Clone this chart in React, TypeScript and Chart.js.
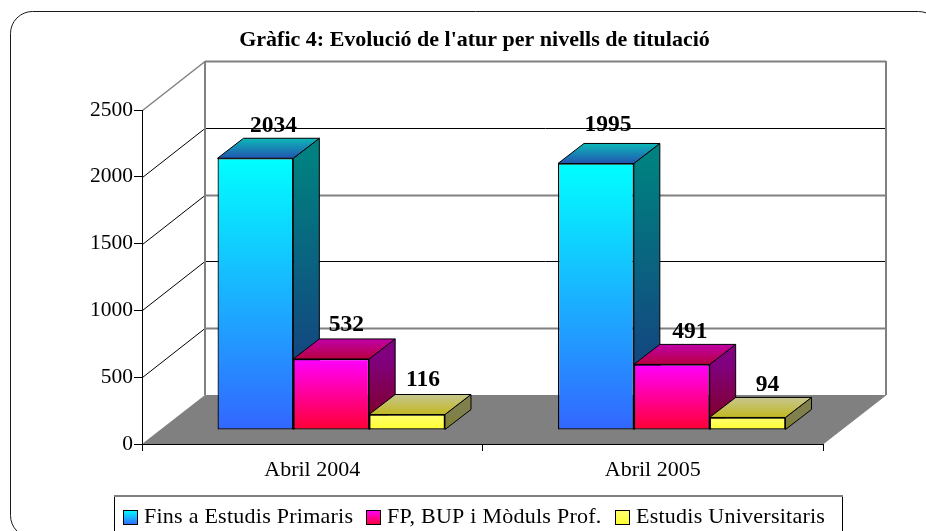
import React, { useEffect, useRef } from "react";
import { Chart, registerables } from "chart.js";

Chart.register(...registerables);

const categories = ["Abril 2004", "Abril 2005"];
const seriesNames = ["Fins a Estudis Primaris", "FP, BUP i Mòduls Prof.", "Estudis Universitaris"];
const primaris = [2034, 1995];
const fpBup = [532, 491];
const universitaris = [116, 94];
const yMax = 2500;
const yStep = 500;
const titleText = "Gràfic 4: Evolució de l'atur per nivells de titulació";

const SERIF = "'Liberation Serif', serif";
const palettes = [
  { front: ["#00ffff", "#3366ff"], side: ["#008080", "#1a3380"], top: ["#0cb8b8", "#2255b0"] },
  { front: ["#ff00ff", "#ff0033"], side: ["#800080", "#80001a"], top: ["#c000a8", "#b80040"] },
  { front: ["#ffff70", "#ffff30"], side: ["#80804c", "#808020"], top: ["#c6c690", "#c2b820"] },
];
const labelOffsets = [
  [[18, -26], [12, -32]],
  [[15, -28], [18, -26]],
  [[16, -29], [20, -26]],
];

const BAR_DX = 19;
const BAR_DY = -14;
const D_X = 26;
const D_Y = -20;
const WALL_DX = 63;
const WALL_DY = -49;

function grad(ctx: CanvasRenderingContext2D, y0: number, y1: number, c: string[]) {
  const g = ctx.createLinearGradient(0, y0, 0, y1);
  g.addColorStop(0, c[0]);
  g.addColorStop(1, c[1]);
  return g;
}

const poly = (ctx: CanvasRenderingContext2D, pts: number[][]) => {
  ctx.beginPath();
  pts.forEach((p, i) => (i ? ctx.lineTo(p[0], p[1]) : ctx.moveTo(p[0], p[1])));
  ctx.closePath();
};

const scenePlugin = {
  id: "scene",
  beforeDraw(chart: any) {
    const { ctx, chartArea: a, scales } = chart;
    ctx.save();
    ctx.strokeStyle = "#1a1a1a";
    ctx.lineWidth = 1;
    ctx.beginPath();
    ctx.roundRect(10.5, 11.5, 930, 526, 22);
    ctx.stroke();

    // floor
    poly(ctx, [
      [a.left, a.bottom],
      [a.right, a.bottom],
      [a.right + WALL_DX, a.bottom + WALL_DY],
      [a.left + WALL_DX, a.bottom + WALL_DY],
    ]);
    ctx.fillStyle = "#808080";
    ctx.fill();

    // wall lines
    scales.y.ticks.forEach((t: any, i: number) => {
      if (t.value === 0) return;
      const y = Math.round(scales.y.getPixelForValue(t.value)) + 0.5;
      const heavy = i % 2 === 1;
      const isTop = t.value === yMax;
      ctx.strokeStyle = isTop ? "#808080" : "#000000";
      ctx.lineWidth = isTop ? 1.5 : 1;
      ctx.beginPath();
      ctx.moveTo(a.left + 0.5, y);
      ctx.lineTo(a.left + WALL_DX, y + WALL_DY);
      ctx.stroke();
      ctx.strokeStyle = heavy ? "#808080" : "#000000";
      ctx.lineWidth = heavy ? 2 : 1;
      ctx.beginPath();
      ctx.moveTo(a.left + WALL_DX, y + WALL_DY);
      ctx.lineTo(a.right + WALL_DX, y + WALL_DY);
      ctx.stroke();
    });
    ctx.strokeStyle = "#808080";
    ctx.lineWidth = 2;
    ctx.beginPath();
    ctx.moveTo(a.left + WALL_DX, a.top + WALL_DY);
    ctx.lineTo(a.left + WALL_DX, a.bottom + WALL_DY);
    ctx.moveTo(a.right + WALL_DX, a.top + WALL_DY);
    ctx.lineTo(a.right + WALL_DX, a.bottom + WALL_DY);
    ctx.stroke();
    ctx.lineWidth = 1;
    ctx.beginPath();
    ctx.moveTo(a.right, a.bottom);
    ctx.lineTo(a.right + WALL_DX, a.bottom + WALL_DY);
    ctx.stroke();
    ctx.restore();
  },
  beforeDatasetsDraw(chart: any) {
    const { ctx } = chart;
    ctx.save();
    ctx.translate(BAR_DX, BAR_DY);
    chart.data.datasets.forEach((_: any, di: number) => {
      const pal = palettes[di];
      chart.getDatasetMeta(di).data.forEach((bar: any) => {
        const p = bar.getProps(["x", "y", "base", "width"], true);
        const l = p.x - p.width / 2;
        const r = p.x + p.width / 2;
        const t = p.y;
        const b = p.base;
        ctx.lineWidth = 1;
        ctx.strokeStyle = "#000000";
        poly(ctx, [[r, t], [r + D_X, t + D_Y], [r + D_X, b + D_Y], [r, b]]);
        ctx.fillStyle = grad(ctx, t, b, pal.side);
        ctx.fill();
        ctx.stroke();
        poly(ctx, [[l, t], [r, t], [r + D_X, t + D_Y], [l + D_X, t + D_Y]]);
        ctx.fillStyle = grad(ctx, t + D_Y, t, pal.top);
        ctx.fill();
        ctx.stroke();
      });
    });
    ctx.restore();
  },
  beforeDatasetDraw(chart: any) {
    chart.ctx.save();
    chart.ctx.translate(BAR_DX, BAR_DY);
  },
  afterDatasetDraw(chart: any) {
    chart.ctx.restore();
  },
  afterDatasetsDraw(chart: any) {
    const { ctx } = chart;
    ctx.save();
    ctx.fillStyle = "#000000";
    ctx.textAlign = "center";
    ctx.textBaseline = "alphabetic";
    ctx.font = `bold 23.5px ${SERIF}`;
    chart.data.datasets.forEach((ds: any, di: number) => {
      chart.getDatasetMeta(di).data.forEach((bar: any, i: number) => {
        const off = labelOffsets[di][i];
        ctx.fillText(String(ds.data[i]), bar.x + BAR_DX + off[0], bar.y + BAR_DY + off[1]);
      });
    });

    // title
    ctx.font = `bold 22px ${SERIF}`;
    ctx.fillText(titleText, 474.5, 46);

    // legend
    ctx.strokeStyle = "#808080";
    ctx.lineWidth = 2;
    ctx.beginPath();
    ctx.moveTo(114, 496);
    ctx.lineTo(843, 496);
    ctx.stroke();
    ctx.lineWidth = 1;
    ctx.strokeStyle = "#000000";
    ctx.beginPath();
    ctx.moveTo(114.5, 497);
    ctx.lineTo(114.5, 531);
    ctx.moveTo(842.5, 497);
    ctx.lineTo(842.5, 531);
    ctx.stroke();
    const boxX = [123, 366, 615];
    ctx.textAlign = "left";
    ctx.font = `22px ${SERIF}`;
    (ctx as any).letterSpacing = "0.25px";
    chart.data.datasets.forEach((ds: any, di: number) => {
      ctx.fillStyle = grad(ctx, 510, 525, palettes[di].front);
      ctx.fillRect(boxX[di], 510, 15, 15);
      ctx.strokeStyle = "#000000";
      ctx.strokeRect(boxX[di] + 0.5, 510.5, 14, 14);
      ctx.fillStyle = "#000000";
      ctx.fillText(ds.label, boxX[di] + 21, 523);
    });
    ctx.restore();
  },
};

const seriesValues = [primaris, fpBup, universitaris];

export default function App() {
  const ref = useRef<HTMLCanvasElement>(null);
  useEffect(() => {
    document.body.style.margin = "0";
    document.body.style.background = "#ffffff";
    const chart = new Chart(ref.current!, {
      type: "bar",
      plugins: [scenePlugin],
      data: {
        labels: categories,
        datasets: seriesValues.map((values, di) => ({
          label: seriesNames[di],
          data: values,
          clip: false,
          borderWidth: 1.3,
          borderColor: "#000000",
          borderSkipped: false,
          backgroundColor: (c: any) => {
            const y = c.chart.scales.y;
            const v = typeof c.raw === "number" ? c.raw : 0;
            const y0 = y ? y.getPixelForValue(v) : NaN;
            const y1 = y ? y.getPixelForValue(0) : NaN;
            if (!Number.isFinite(y0) || !Number.isFinite(y1)) return palettes[di].front[0];
            return grad(c.chart.ctx, y0, y1, palettes[di].front);
          },
        })),
      } as any,
      options: {
        responsive: false,
        animation: false,
        layout: { autoPadding: false, padding: { left: 0, top: 110, right: 103, bottom: 0 } },
        plugins: { legend: { display: false }, title: { display: false }, tooltip: { enabled: false } },
        datasets: { bar: { categoryPercentage: 0.668, barPercentage: 1 } },
        scales: {
          x: {
            offset: true,
            afterFit: (s: any) => { s.height = 87; },
            grid: { offset: true, drawOnChartArea: false, drawTicks: true, tickLength: 7, color: "#000000" },
            border: { display: true, color: "#000000" },
            ticks: { color: "#000000", padding: 6, maxRotation: 0, font: { family: SERIF, size: 22 } },
          },
          y: {
            min: 0,
            max: yMax,
            afterFit: (s: any) => { s.width = 142; },
            grid: { drawOnChartArea: false, drawTicks: true, tickLength: 8, color: "#000000" },
            border: { display: true, color: "#000000" },
            ticks: { stepSize: yStep, color: "#000000", padding: 1, font: { family: SERIF, size: 21.5 }, callback: (v: any) => String(v) },
          },
        },
      } as any,
    });
    return () => chart.destroy();
  }, []);
  return <canvas ref={ref} width={926} height={531} style={{ display: "block", width: 926, height: 531 }} />;
}
